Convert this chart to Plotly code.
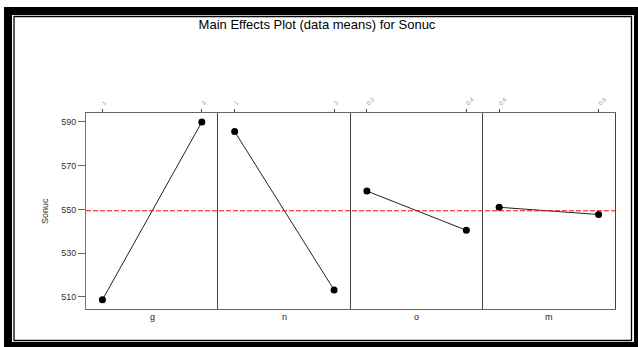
import plotly.graph_objects as go
from plotly.subplots import make_subplots

# ---- data ----
factors = ["g", "n", "o", "m"]
g_levels = [1, 3]
g_means = [508.7, 590.0]
n_levels = [1, 3]
n_means = [585.6, 513.2]
o_levels = [0.2, 0.4]
o_means = [558.4, 540.5]
m_levels = [0.6, 0.8]
m_means = [551.0, 547.7]
g_ticks = ["1", "3"]
n_ticks = ["1", "3"]
o_ticks = ["0.2", "0.4"]
m_ticks = ["0.6", "0.8"]
y_ticks = [510, 530, 550, 570, 590]

levels = [g_levels, n_levels, o_levels, m_levels]
means = [g_means, n_means, o_means, m_means]
ticks = [g_ticks, n_ticks, o_ticks, m_ticks]
all_means = g_means + n_means + o_means + m_means
grand_mean = sum(all_means) / len(all_means)

W, H = 638, 347
L, R, T, B = 86, 23, 113, 38
PW, PH = W - L - R, H - T - B


def px(x):
    return (x - L) / PW


def py(y):
    return (H - B - y) / PH


FONT = "Liberation Sans, Arial, sans-serif"

fig = make_subplots(rows=1, cols=4, shared_yaxes=True, horizontal_spacing=0)

for i in range(4):
    lv, mv = levels[i], means[i]
    span = lv[1] - lv[0]
    fig.add_trace(
        go.Scatter(
            x=lv, y=mv, mode="lines+markers",
            line=dict(color="#222222", width=1),
            marker=dict(color="black", size=7),
            showlegend=False,
        ),
        row=1, col=i + 1,
    )
    fig.update_xaxes(
        row=1, col=i + 1,
        range=[lv[0] - 0.165 * span, lv[1] + 0.165 * span],
        side="top", tickvals=lv, ticktext=ticks[i],
        ticks="outside", ticklen=3, tickcolor="#444",
        tickangle=-45, tickfont=dict(family=FONT, size=6, color="#999"),
        showline=True, mirror=True, linecolor="#666", linewidth=1,
        showgrid=False, zeroline=False, fixedrange=True,
    )
    fig.add_annotation(
        x=0.5, y=0, xref=f"x{'' if i == 0 else i + 1} domain", yref="paper",
        text=factors[i], showarrow=False, yanchor="top", yshift=-1,
        font=dict(family=FONT, size=9, color="#222"),
    )

fig.update_yaxes(
    range=[504.5, 594.1], showline=True, mirror=False, linecolor="#444",
    linewidth=1, showgrid=False, zeroline=False, fixedrange=True,
)
fig.update_yaxes(
    row=1, col=1, tickvals=y_ticks, ticks="outside", ticklen=7,
    linecolor="#777",
    tickcolor="#666", tickfont=dict(family=FONT, size=9, color="#333"),
)
for c in [2, 3, 4]:
    fig.update_yaxes(row=1, col=c, ticks="", showticklabels=False)
fig.update_yaxes(row=1, col=4, mirror=True)

# grand mean reference line
fig.add_shape(
    type="line", xref="paper", yref="y", x0=0, x1=1,
    y0=grand_mean, y1=grand_mean,
    line=dict(color="red", width=1, dash="5px,2px"),
)

# Y title
fig.add_annotation(
    x=px(38), y=0.5, xref="paper", yref="paper", text="Sonuc",
    textangle=-90, showarrow=False,
    font=dict(family=FONT, size=9, color="#333"),
)

# frame
for (x0, y0, x1, y1) in [(4, 7, 638, 15), (4, 7, 12, 347),
                         (634, 7, 638, 347), (4, 342, 638, 347)]:
    fig.add_shape(type="rect", xref="paper", yref="paper",
                  x0=px(x0), x1=px(x1), y0=py(y0), y1=py(y1),
                  fillcolor="black", line=dict(width=0), layer="above")
fig.add_shape(type="rect", xref="paper", yref="paper",
              x0=px(14), x1=px(631.5), y0=py(16.5), y1=py(340.5),
              line=dict(color="black", width=1.3), layer="above")

fig.update_layout(
    width=W, height=H,
    margin=dict(l=L, r=R, t=T, b=B),
    paper_bgcolor="white", plot_bgcolor="white",
    hovermode=False,
    title=dict(
        text="Main Effects Plot (data means) for Sonuc",
        x=317 / W, xref="container", xanchor="center",
        y=1 - 24 / H, yref="container", yanchor="middle",
        font=dict(family=FONT, size=13, color="black"),
    ),
)

fig.write_html(
    "out.html",
    config={"displayModeBar": False},
    post_script="document.body.style.margin='0';document.body.style.overflow='hidden';",
)
